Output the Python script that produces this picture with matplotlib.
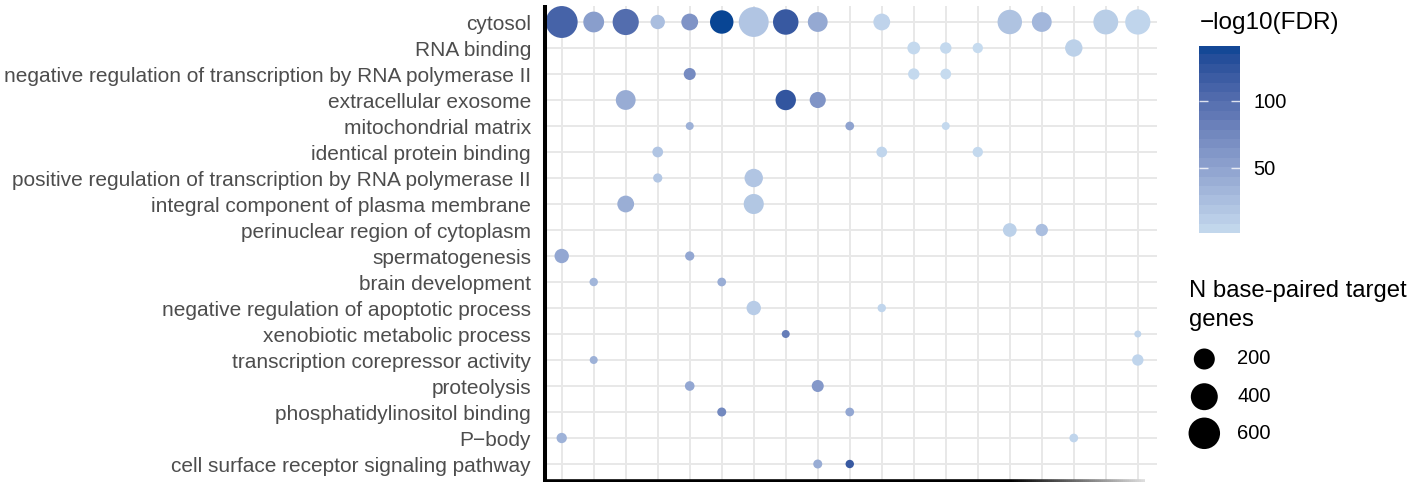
import numpy as np
import matplotlib
matplotlib.use("Agg")
import matplotlib.pyplot as plt
from matplotlib.colors import ListedColormap, Normalize, to_rgb
from matplotlib.collections import LineCollection

plt.rcParams['font.family'] = ['Liberation Sans', 'DejaVu Sans']

terms = [
    "cytosol",
    "RNA binding",
    "negative regulation of transcription by RNA polymerase II",
    "extracellular exosome",
    "mitochondrial matrix",
    "identical protein binding",
    "positive regulation of transcription by RNA polymerase II",
    "integral component of plasma membrane",
    "perinuclear region of cytoplasm",
    "spermatogenesis",
    "brain development",
    "negative regulation of apoptotic process",
    "xenobiotic metabolic process",
    "transcription corepressor activity",
    "proteolysis",
    "phosphatidylinositol binding",
    "P\u2212body",
    "cell surface receptor signaling pathway",
]
n_cols = 19

# one entry per dot: term row, column, gene count, -log10(FDR)
dot_term = [0] * 14 + [1] * 4 + [2] * 3 + [3] * 3 + [4] * 3 + [5] * 3 + \
    [6, 6, 7, 7, 8, 8, 9, 9, 10, 10, 11, 11, 12, 12, 13, 13, 14, 14, 15, 15, 16, 16, 17, 17]
dot_col = [0, 1, 2, 3, 4, 5, 6, 7, 8, 10, 14, 15, 17, 18,
           11, 12, 13, 16,
           4, 11, 12,
           2, 7, 8,
           4, 9, 12,
           3, 10, 13,
           3, 6,
           2, 6,
           14, 15,
           0, 4,
           1, 5,
           6, 10,
           7, 18,
           1, 18,
           4, 8,
           5, 9,
           0, 16,
           8, 9]
n_genes = [620, 194, 369, 59, 100, 273, 524, 343, 168, 100, 307, 168, 321, 332,
           38, 25, 16, 112,
           30, 24, 19,
           168, 183, 87,
           6, 8, 6,
           19, 19, 16,
           10, 134,
           100, 175,
           50, 33,
           59, 10,
           7, 8,
           59, 7,
           6, 5,
           6, 24,
           12, 30,
           9, 8,
           16, 8,
           9, 7]
neg_log10_fdr = [110, 55, 100, 26, 64, 141, 20, 120, 45, 8, 22, 32, 13, 6,
                 3, 3, 1, 10,
                 72, 3, 1,
                 42, 124, 63,
                 38, 50, 3,
                 20, 6, 3,
                 18, 20,
                 40, 19,
                 10, 26,
                 46, 46,
                 33, 41,
                 14, 6,
                 85, 6,
                 38, 6,
                 46, 60,
                 74, 46,
                 36, 6,
                 42, 120]

size_breaks = [200, 400, 600]
fdr_breaks = [50, 100]

W, H = 1423, 482

# gradient between two colours, interpolated in CIE Lab
_M = np.array([[0.4124, 0.3576, 0.1805],
               [0.2126, 0.7152, 0.0722],
               [0.0193, 0.1192, 0.9505]])
_WHITE = np.array([0.95047, 1.0, 1.08883])


def to_lab(col):
    rgb = np.array(to_rgb(col))
    lin = np.where(rgb <= 0.04045, rgb / 12.92, ((rgb + 0.055) / 1.055) ** 2.4)
    xyz = _M @ lin / _WHITE
    f = np.where(xyz > 0.008856, np.cbrt(xyz), 7.787 * xyz + 16 / 116)
    return np.array([116 * f[1] - 16, 500 * (f[0] - f[1]), 200 * (f[1] - f[2])])


def from_lab(lab):
    fy_ = (lab[0] + 16) / 116
    f = np.array([fy_ + lab[1] / 500, fy_, fy_ - lab[2] / 200])
    xyz = np.where(f ** 3 > 0.008856, f ** 3, (f - 16 / 116) / 7.787) * _WHITE
    lin = np.linalg.solve(_M, xyz)
    lin = np.clip(lin, 0, None)
    rgb = np.where(lin <= 0.0031308, 12.92 * lin, 1.055 * lin ** (1 / 2.4) - 0.055)
    return np.clip(rgb, 0, 1)


lo, hi = to_lab("#c6dbef"), to_lab("#084594")
cmap = ListedColormap([from_lab(lo + t * (hi - lo)) for t in np.linspace(0, 1, 256)])
vmin, vmax = min(neg_log10_fdr), max(neg_log10_fdr)
norm = Normalize(vmin, vmax)

n_lo, n_hi = min(n_genes), max(n_genes)


def dot_area(n):
    # diameter in pixels, area scaled like ggplot's scale_size
    n = np.asarray(n, dtype=float)
    d = 7 + 24.9 * np.sqrt((n - n_lo) / (n_hi - n_lo))
    return (d * 72 / 100) ** 2


fig = plt.figure(figsize=(W / 100, H / 100), dpi=100)

ax = fig.add_axes([542.5 / W, 1 - 479.6 / H, (1157 - 542.5) / W, (479.6 - 6.4) / H])
ax.set_xlim(-0.6, n_cols - 0.4)
ax.set_ylim(len(terms) - 0.4, -0.6)
ax.set_xticks(range(n_cols))
ax.set_xticklabels([])
ax.set_yticks(range(len(terms)))
ax.set_yticklabels(terms)
ax.tick_params(length=0)
ax.tick_params(axis='y', pad=8.3, labelsize=15.0, labelcolor='#4d4d4d')
ax.grid(True, color='#e8e8e8', lw=1.4)
ax.set_axisbelow(True)
for s in ax.spines.values():
    s.set_visible(False)

ax.scatter(dot_col, dot_term, s=dot_area(n_genes), c=neg_log10_fdr, cmap=cmap, norm=norm,
           linewidths=0, zorder=3, clip_on=False)

# overlay in pixel coordinates for axis lines and the size legend
ov = fig.add_axes([0, 0, 1, 1])
ov.set_xlim(0, W)
ov.set_ylim(H, 0)
ov.axis('off')
ov.patch.set_visible(False)

ov.plot([544.5, 544.5], [5, 482], color='black', lw=2.9, solid_capstyle='butt')
xs = np.linspace(542.5, 1145, 300)
segs = [[(xs[i], 480.5), (xs[i + 1], 480.5)] for i in range(len(xs) - 1)]
fade = np.clip((xs[:-1] - 1010) / (1145 - 1010), 0, 1)
seg_cols = [(0.88 * f, 0.88 * f, 0.88 * f) for f in fade]
ov.add_collection(LineCollection(segs, colors=seg_cols, linewidths=2.6))

# colour legend
ov.text(1200, 23, "\u2212log10(FDR)", fontsize=17.5, va='center', ha='left')
cax = fig.add_axes([1199 / W, 1 - 233.3 / H, 41 / W, 187.3 / H])
bins = vmin + (np.arange(20) + 0.5) / 20 * (vmax - vmin)
cax.imshow(bins[:, None], cmap=cmap, norm=norm, aspect='auto', origin='lower',
           extent=[0, 1, vmin, vmax], interpolation='nearest')
cax.hlines(fdr_breaks, 0, 0.22, color='white', lw=1, alpha=0.8)
cax.hlines(fdr_breaks, 0.78, 1, color='white', lw=1, alpha=0.8)
cax.set_xlim(0, 1)
cax.set_ylim(vmin, vmax)
cax.set_xticks([])
cax.yaxis.tick_right()
cax.set_yticks(fdr_breaks)
cax.set_yticklabels([str(b) for b in fdr_breaks])
cax.tick_params(axis='y', length=0, pad=9.4, labelsize=14.5)
for s in cax.spines.values():
    s.set_visible(False)

# size legend
ov.text(1189, 297, "N base-paired target", fontsize=17.2, va='baseline', ha='left')
ov.text(1189, 326, "genes", fontsize=17.2, va='baseline', ha='left')
key_y = [359, 396.7, 433.3]
ov.scatter([1204.3] * 3, key_y, s=dot_area(size_breaks), color='black', linewidths=0)
for yy, b in zip(key_y, size_breaks):
    ov.text(1237, yy, str(b), fontsize=14.5, va='center', ha='left')

fig.savefig("out.png", dpi=100)
